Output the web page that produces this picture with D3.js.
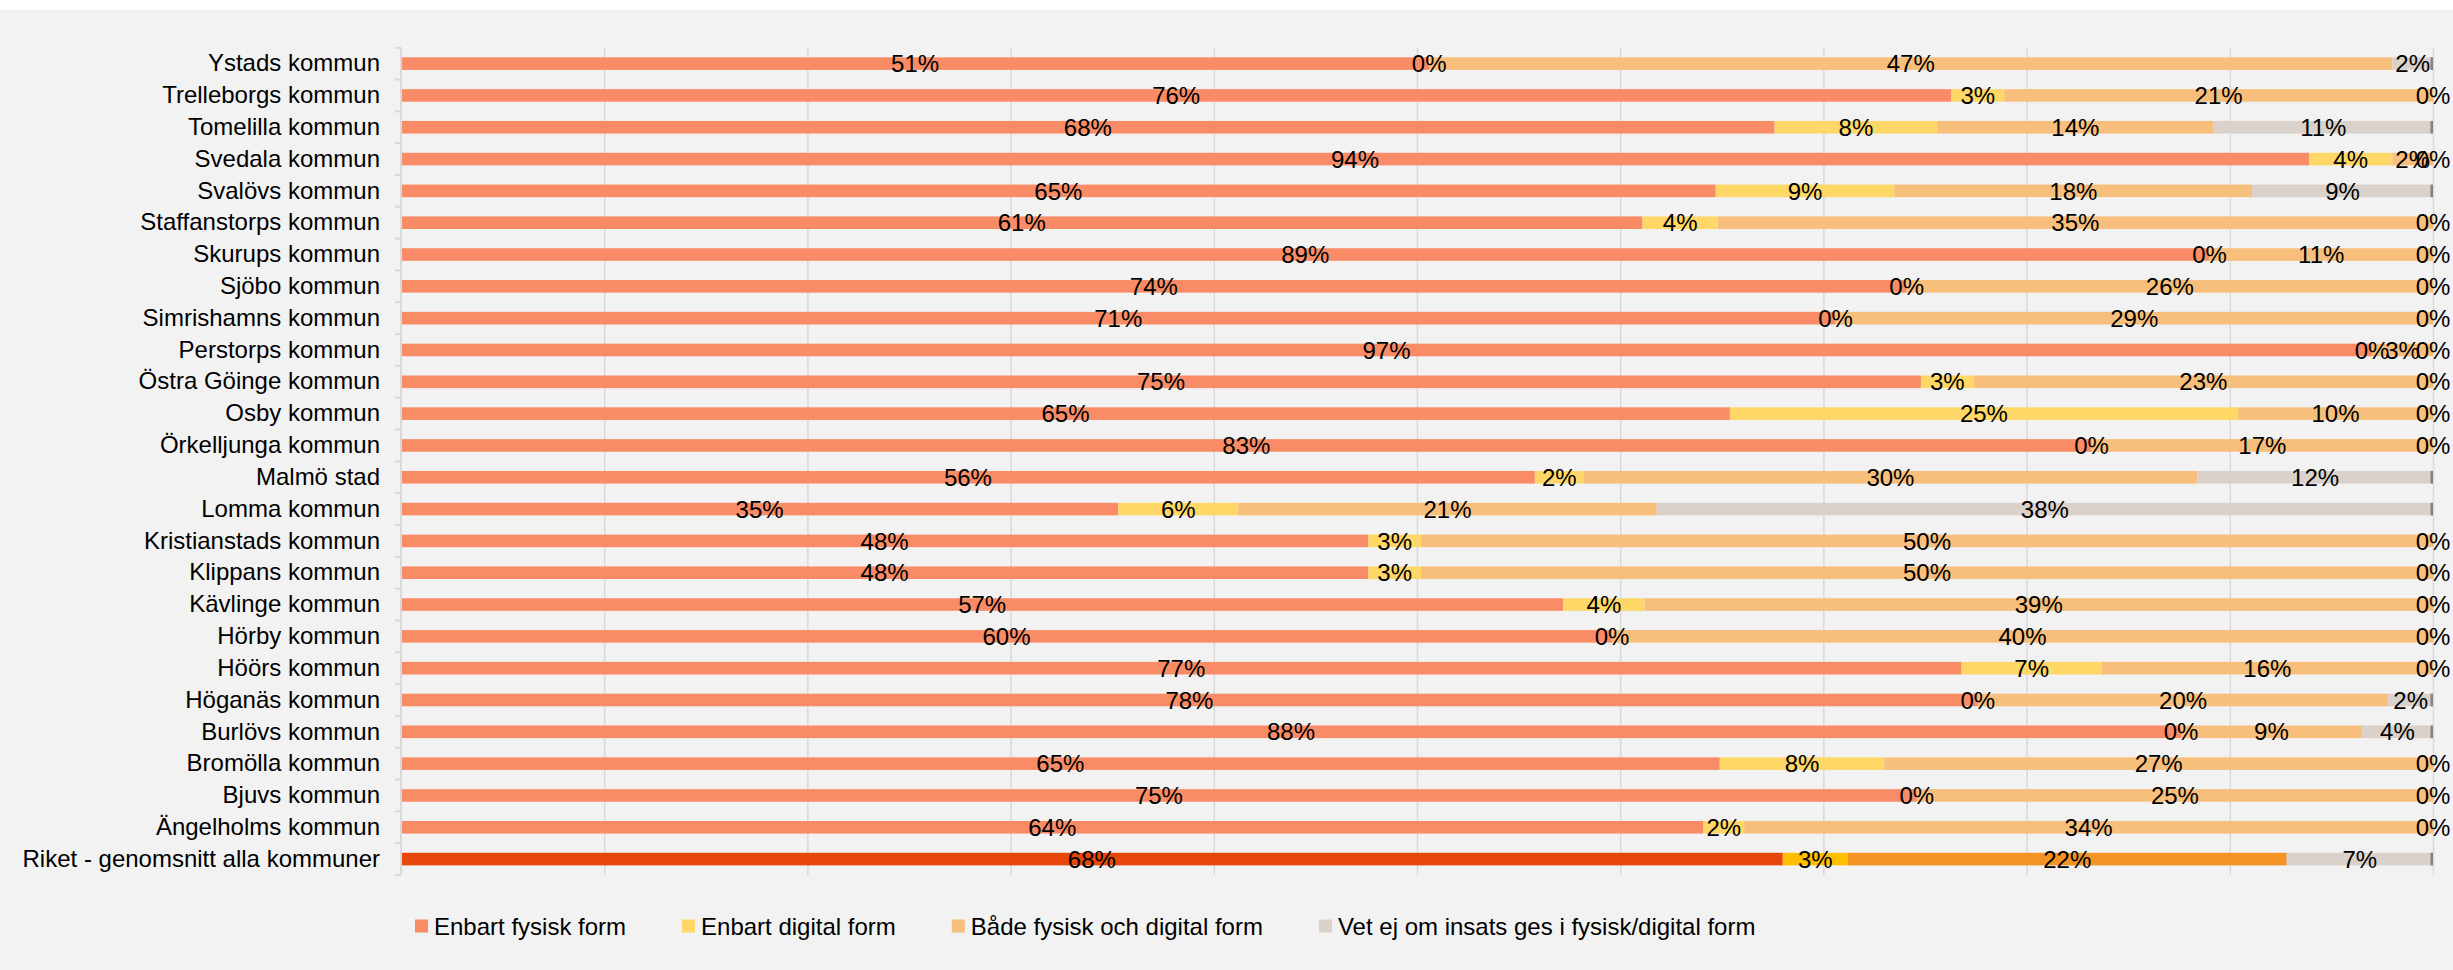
<!DOCTYPE html>
<html>
<head>
<meta charset="utf-8">
<script src="https://cdn.jsdelivr.net/npm/d3@7"></script>
<style>
  html, body { margin: 0; padding: 0; background: #fff; }
  svg { display: block; font-family: "Liberation Sans", Arial, sans-serif; }
</style>
</head>
<body>
<div id="chart"></div>
<script>
// data (percent)
var kommuner = [
  'Ystads kommun', 'Trelleborgs kommun', 'Tomelilla kommun', 'Svedala kommun',
  'Svalövs kommun', 'Staffanstorps kommun', 'Skurups kommun', 'Sjöbo kommun',
  'Simrishamns kommun', 'Perstorps kommun', 'Östra Göinge kommun', 'Osby kommun',
  'Örkelljunga kommun', 'Malmö stad', 'Lomma kommun', 'Kristianstads kommun',
  'Klippans kommun', 'Kävlinge kommun', 'Hörby kommun', 'Höörs kommun',
  'Höganäs kommun', 'Burlövs kommun', 'Bromölla kommun', 'Bjuvs kommun',
  'Ängelholms kommun', 'Riket - genomsnitt alla kommuner'
];
var seriesNames = ['Enbart fysisk form', 'Enbart digital form', 'Både fysisk och digital form', 'Vet ej om insats ges i fysisk/digital form'];

var fysisk  = [50.6, 76.3, 67.6, 93.9, 64.7, 61.1, 89.0, 74.1, 70.6, 97.0, 74.8, 65.4, 83.2, 55.8, 35.3, 47.6, 47.6, 57.2, 59.6, 76.8, 77.6, 87.6, 64.9, 74.6, 64.1, 68.0];
var digital = [0.0, 2.6, 8.0, 4.1, 8.8, 3.7, 0.0, 0.0, 0.0, 0.0, 2.6, 25.0, 0.0, 2.4, 5.9, 2.6, 2.6, 4.0, 0.0, 6.9, 0.0, 0.0, 8.1, 0.0, 2.0, 3.2];
var bada    = [47.4, 21.1, 13.6, 2.0, 17.6, 35.2, 11.0, 25.9, 29.4, 3.0, 22.6, 9.6, 16.8, 30.2, 20.6, 49.8, 49.8, 38.8, 40.4, 16.3, 20.2, 8.9, 27.0, 25.4, 33.9, 21.6];
var vetej   = [2.0, 0.0, 10.8, 0.0, 8.9, 0.0, 0.0, 0.0, 0.0, 0.0, 0.0, 0.0, 0.0, 11.6, 38.2, 0.0, 0.0, 0.0, 0.0, 0.0, 2.2, 3.5, 0.0, 0.0, 0.0, 7.2];
var gridTicks = [10, 20, 30, 40, 50, 60, 70, 80, 90, 100];

var colors = ['#f98c66', '#fed766', '#f8be7b', '#d9d1ca'];
var riketColors = ['#e8470b', '#ffbf00', '#f29324', '#d9d1ca'];

var width = 2453, height = 970;
var plot = { left: 401, right: 2433, top: 47.7, bottom: 875 };
var fontSize = '24px';

var svg = d3.select('#chart').append('svg')
  .attr('width', width)
  .attr('height', height);

// background (thin white strip on top)
svg.append('rect')
  .attr('x', 0).attr('y', 10)
  .attr('width', width).attr('height', height - 10)
  .attr('fill', '#f2f2f2');

var x = d3.scaleLinear().domain([0, 100]).range([plot.left, plot.right]);
var y = d3.scaleBand().domain(kommuner).range([plot.top, plot.bottom]).padding(0);
var barH = 12.6;

// gridlines
var grid = svg.append('g')
  .attr('transform', `translate(0, ${plot.bottom})`)
  .call(d3.axisBottom(x).tickValues(gridTicks).tickSize(-(plot.bottom - plot.top)).tickFormat(''));
grid.select('.domain').remove();
grid.selectAll('line').attr('stroke', '#d9d9d9').attr('stroke-width', 1.5);

// stacked rows
var rows = kommuner.map(function(k, i) {
  return { name: k, values: [fysisk[i], digital[i], bada[i], vetej[i]] };
});

var rowG = svg.selectAll('.row').data(rows).enter().append('g')
  .attr('class', 'row')
  .attr('transform', d => `translate(0, ${y(d.name) + y.bandwidth() / 2})`);

rowG.each(function(d, i) {
  var g = d3.select(this);
  var isRiket = i === rows.length - 1;
  var start = 0;
  var segs = d.values.map(function(v, s) {
    var seg = { s: s, v: v, x0: start, x1: start + v };
    start += v;
    return seg;
  });

  g.selectAll('rect.seg').data(segs).enter().append('rect')
    .attr('class', 'seg')
    .attr('x', s => x(s.x0))
    .attr('y', -barH / 2)
    .attr('width', s => x(s.x1) - x(s.x0))
    .attr('height', barH)
    .attr('fill', s => isRiket ? riketColors[s.s] : colors[s.s]);

  // dark end cap on the "vet ej" segment
  var last = segs[3];
  if (last.v > 0) {
    g.append('rect')
      .attr('x', x(last.x1) - 2.5)
      .attr('y', -barH / 2)
      .attr('width', 2.5)
      .attr('height', barH)
      .attr('fill', '#8c7f77');
  }

  g.selectAll('text.val').data(segs).enter().append('text')
    .attr('class', 'val')
    .attr('x', s => x((s.x0 + s.x1) / 2))
    .attr('y', 0)
    .attr('dy', '0.36em')
    .attr('text-anchor', 'middle')
    .attr('font-size', fontSize)
    .attr('fill', '#000')
    .text(s => Math.round(s.v) + '%');
});

// left axis
var yAxis = svg.append('g')
  .attr('transform', `translate(${plot.left}, 0)`)
  .call(d3.axisLeft(y).tickSize(0).tickPadding(21));
yAxis.select('.domain').remove();
yAxis.selectAll('text')
  .attr('font-size', fontSize)
  .attr('font-family', '"Liberation Sans", Arial, sans-serif')
  .attr('fill', '#000');

svg.append('line')
  .attr('x1', plot.left).attr('x2', plot.left)
  .attr('y1', plot.top).attr('y2', plot.bottom)
  .attr('stroke', '#d9d9d9').attr('stroke-width', 2);

// category ticks between bands
var bounds = kommuner.map(k => y(k)).concat([plot.bottom]);
svg.selectAll('.ctick').data(bounds).enter().append('line')
  .attr('class', 'ctick')
  .attr('x1', plot.left - 6).attr('x2', plot.left)
  .attr('y1', d => d).attr('y2', d => d)
  .attr('stroke', '#d9d9d9').attr('stroke-width', 2);

// legend
var legend = svg.append('g').attr('transform', 'translate(415, 926)');
var lx = 0;
seriesNames.forEach(function(name, i) {
  var item = legend.append('g').attr('transform', `translate(${lx}, 0)`);
  item.append('rect')
    .attr('x', 0).attr('y', -6.5)
    .attr('width', 13).attr('height', 13)
    .attr('fill', colors[i]);
  var t = item.append('text')
    .attr('x', 19).attr('y', 0)
    .attr('dy', '0.36em')
    .attr('font-size', fontSize)
    .attr('fill', '#000')
    .text(name);
  lx += 19 + t.node().getComputedTextLength() + 56;
});
</script>
</body>
</html>
